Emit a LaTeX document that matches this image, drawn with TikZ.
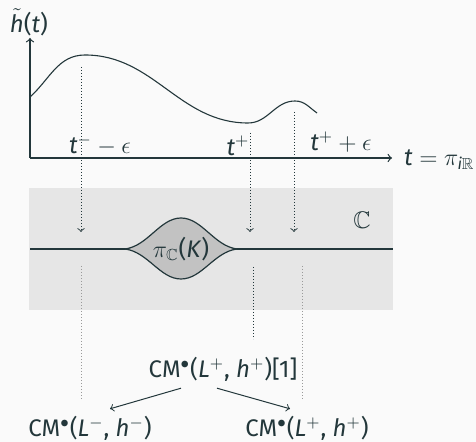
\documentclass[tikz,border=0pt]{standalone}
\usepackage{fontspec}
\setmainfont{Fira Sans}
\usepackage{amsmath,amssymb}

\definecolor{fgdark}{HTML}{23373B}
\definecolor{bglight}{HTML}{FAFAFA}
\definecolor{bandgray}{HTML}{E6E6E6}
\definecolor{blobgray}{HTML}{C2C2C2}
\definecolor{dotgray}{HTML}{9A9A9A}

\newcommand{\mv}[1]{\textit{#1}}
\newcommand{\CMb}{CM$^{\bullet}$}

\tikzset{
  dotline/.style={dash pattern=on 0.45pt off 1.05pt, line width=0.45pt},
  axisline/.style={->, line width=0.6pt},
}

\begin{document}
\begin{tikzpicture}[x=0.5pt, y=-0.5pt, font=\fontsize{12}{14}\selectfont,
    color=fgdark, >=to]

    % 背景
    \useasboundingbox[fill=bglight] (0,0) rectangle (476,442);

    % 灰色平面
    \fill[bandgray] (29,188) rectangle (393,310);

    % 坐标轴
    \draw[axisline] (30,158) -- (30,38);
    \draw[axisline] (30,158) -- (392,158);
    \node (hlab) at (29,22) {$\tilde{\mv{h}}$(\mv{t})};
    \node[anchor=west] (tlab) at (397,160) {$\mv{t}=\pi_{\mv{i}\mathbb{R}}$};

    % 曲线
    \draw[line width=0.55pt] (30,97) to[out=42,in=180] (85,55)
      to[out=0,in=180] (248,123) to[out=0,in=180] (295,101)
      to[out=0,in=145] (317,113);

    % 时间标记
    \node (tminus) at (100,145) {$\mv{t}^{-}-\epsilon$};
    \node (tplus) at (238,146) {$\mv{t}^{+}$};
    \node (tpluse) at (341,142) {$\mv{t}^{+}+\epsilon$};

    % 投影线
    \coordinate (pA) at (81,67);
    \coordinate (pB) at (250,133);
    \coordinate (pC) at (294,112);
    \coordinate (qA) at (81,232);
    \coordinate (qB) at (250,232);
    \coordinate (qC) at (294,232);
    \draw[dotline,->] (pA) -- (qA);
    \draw[dotline,->] (pB) -- (qB);
    \draw[dotline,->] (pC) -- (qC);

    % 平面中的线和结
    \draw[line width=0.8pt] (30,249) -- (393,249);
    \draw[fill=blobgray, line width=0.6pt] (125,249)
      .. controls (148,246) and (160,218) .. (181,218)
      .. controls (202,218) and (214,246) .. (237,249)
      .. controls (214,252) and (202,279) .. (181,279)
      .. controls (160,279) and (148,252) .. (125,249) -- cycle;
    \node (knot) at (181,249) {$\pi_{\mathbb{C}}$(\mv{K})};
    \node (cplane) at (362,220) {$\mathbb{C}$};

    % 下方的点线
    \draw[dotline, dotgray] (81,266) -- (81,400);
    \draw[dotline] (253,267) -- (253,339);
    \draw[dotline, dotgray] (302,266) -- (302,399);

    % 复形
    \node (cmtop) at (223,369) {\CMb(\mv{L}$^{+}$, \mv{h}$^{+}$)[1]};
    \node (cmleft) at (90,428) {\CMb(\mv{L}$^{-}$, \mv{h}$^{-}$)};
    \node (cmright) at (307,428) {\CMb(\mv{L}$^{+}$, \mv{h}$^{+}$)};
    \draw[->, line width=0.5pt] ([xshift=-21pt]cmtop.south) -- ([xshift=10pt]cmleft.north);
    \draw[->, line width=0.5pt] ([xshift=-3pt]cmtop.south) -- ([xshift=-8.5pt]cmright.north);

  \end{tikzpicture}
\end{document}
